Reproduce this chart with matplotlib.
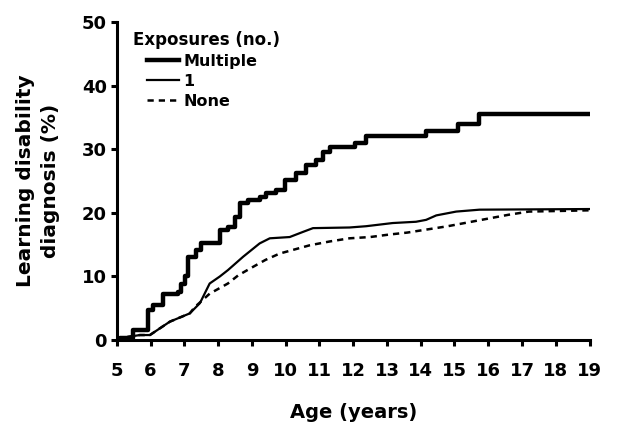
import matplotlib.pyplot as plt

plt.rcParams['font.family'] = ['DejaVu Sans']
plt.rcParams['font.weight'] = 'bold'

# cumulative incidence (age in years, % diagnosed)
multi_age = [5.0, 5.09, 5.48, 5.78, 5.93, 6.07, 6.37, 6.81, 6.9, 7.01, 7.11, 7.36, 7.5, 7.85,
             8.05, 8.29, 8.49, 8.64, 8.88, 9.23, 9.43, 9.72, 9.97, 10.32, 10.61, 10.91,
             11.1, 11.3, 12.04, 12.39, 14.16, 15.09, 15.74, 16.04, 19.0]
multi_pct = [0.0, 0.3, 1.6, 1.6, 4.7, 5.5, 7.3, 7.6, 8.8, 10.0, 13.1, 14.2, 15.2, 15.2,
             17.3, 17.8, 19.4, 21.5, 22.0, 22.5, 23.1, 23.6, 25.2, 26.2, 27.5, 28.3,
             29.6, 30.4, 31.0, 32.1, 32.8, 34.0, 35.5, 35.5, 35.5]

one_age = [5.0, 5.09, 5.68, 5.98, 6.57, 7.16, 7.46, 7.75, 8.05, 8.29, 8.74, 9.23,
           9.53, 10.12, 10.51, 10.81, 11.89, 12.38, 13.17, 13.86, 14.16, 14.46, 15.05,
           15.74, 19.0]
one_pct = [0.0, 0.3, 0.8, 0.8, 2.9, 4.2, 5.8, 8.9, 10.0, 11.0, 13.1, 15.2,
           16.0, 16.2, 17.0, 17.6, 17.7, 17.9, 18.4, 18.6, 18.9, 19.6, 20.2,
           20.5, 20.6]

none_age = [5.0, 5.09, 5.68, 5.98, 6.57, 7.16, 7.31, 7.75, 8.29, 8.6, 9.03, 9.4,
            9.82, 10.3, 10.71, 11.3, 11.89, 12.5, 13.08, 13.6, 14.2, 14.8, 15.4, 16.0,
            16.6, 17.2, 19.0]
none_pct = [0.0, 0.3, 0.8, 0.8, 2.9, 4.2, 5.2, 7.3, 8.9, 10.2, 11.5, 12.6,
            13.6, 14.3, 14.9, 15.5, 16.0, 16.2, 16.6, 16.9, 17.4, 17.9, 18.5, 19.1,
            19.7, 20.2, 20.4]

fig = plt.figure(figsize=(6.18, 4.22), dpi=100)
ax = fig.add_axes([0.189, 0.194, 0.765, 0.754])

ax.plot(multi_age, multi_pct, color='black', lw=3.2, drawstyle='steps-post', label='Multiple')
ax.plot(one_age, one_pct, color='black', lw=1.6, label='1')
ax.plot(none_age, none_pct, color='black', lw=1.8, dashes=(2.5, 2.0), label='None')

ax.set_xlim(5, 19)
ax.set_ylim(0, 50)
ax.set_xticks(range(5, 20))
ax.set_yticks(range(0, 51, 10))

for s in ['top', 'right']:
    ax.spines[s].set_visible(False)
for s in ['left', 'bottom']:
    ax.spines[s].set_linewidth(2.2)
ax.tick_params(width=2.2, length=4, labelsize=13)
ax.tick_params(axis='x', pad=12)
ax.tick_params(axis='y', pad=3)

ax.set_xlabel('Age (years)', fontsize=14, fontweight='bold', labelpad=16)
ax.set_ylabel('Learning disability\ndiagnosis (%)', fontsize=14.5, fontweight='bold',
              labelpad=16, linespacing=1.4)

# legend title on its own, entries indented under it as in the original
ax.text(0.034, 0.944, 'Exposures (no.)', transform=ax.transAxes, fontsize=12,
        fontweight='bold', va='center', ha='left')
ax.legend(loc='upper left', bbox_to_anchor=(0.063, 0.90),
          frameon=False, fontsize=11.5, handlelength=2.0,
          handletextpad=0.3, labelspacing=0.32, borderaxespad=0.0, borderpad=0.0)

fig.savefig('out.png', dpi=100)
